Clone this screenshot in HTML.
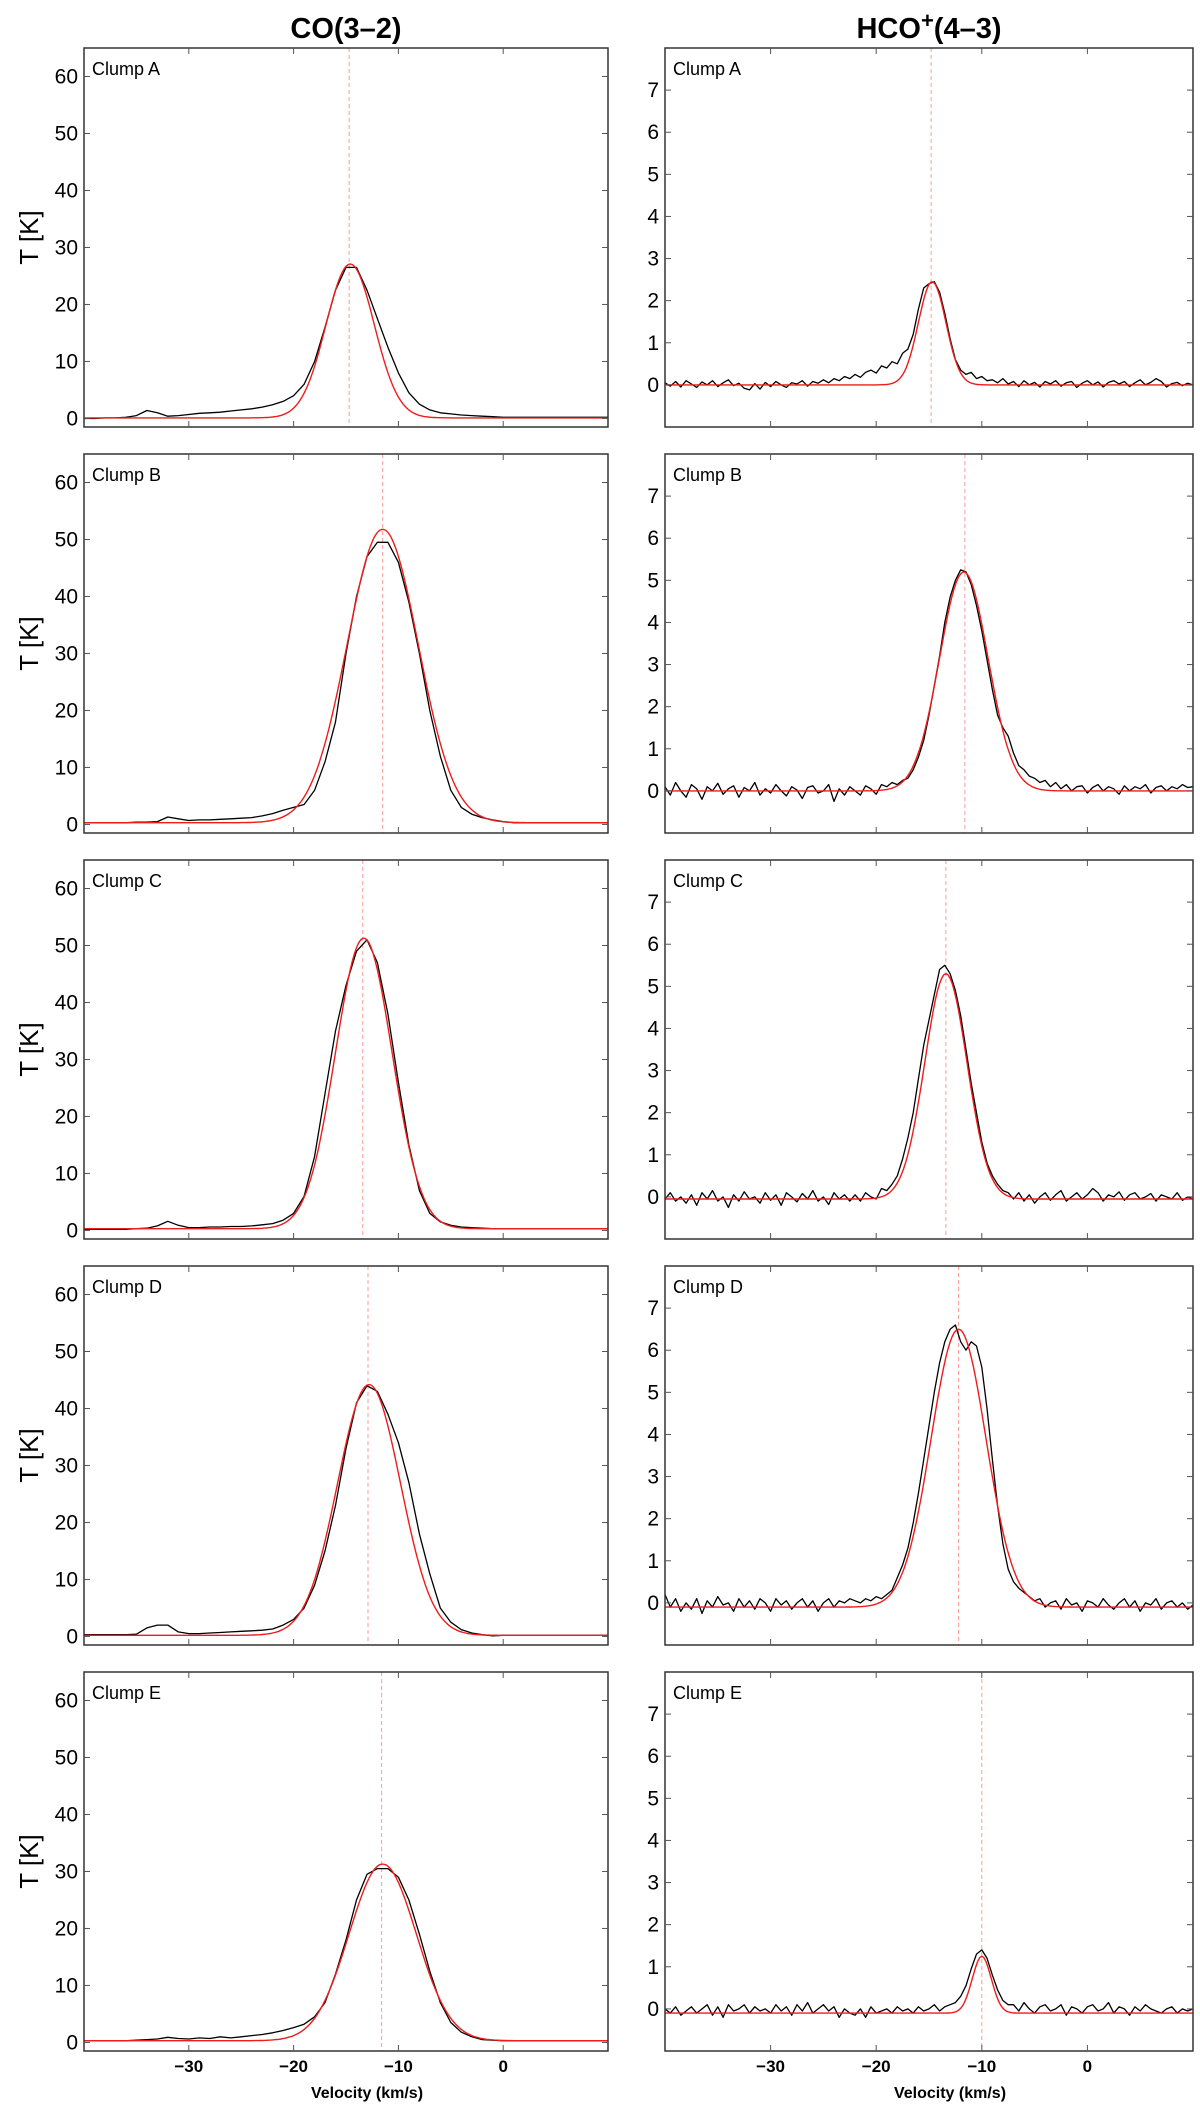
<!DOCTYPE html>
<html><head><meta charset="utf-8"><style>
html,body{margin:0;padding:0;background:#fff;}
svg{display:block;}
</style></head><body>
<svg id="chart" width="1200" height="2109" viewBox="0 0 1200 2109" xmlns="http://www.w3.org/2000/svg" font-family="Liberation Sans, sans-serif">
<text x="346" y="38" text-anchor="middle" font-family="Liberation Sans Narrow, Liberation Sans, sans-serif" font-weight="bold" font-size="29">CO(3–2)</text>
<text x="929" y="38" text-anchor="middle" font-family="Liberation Sans Narrow, Liberation Sans, sans-serif" font-weight="bold" font-size="29">HCO<tspan font-size="22" dy="-10">+</tspan><tspan dy="10">(4–3)</tspan></text>
<g id="plots"></g>
</svg>
<script>
const clumps = ["A","B","C","D","E"];
const xTicks = [-30,-20,-10,0];
const coTicks = [0,10,20,30,40,50,60];
const hcoTicks = [0,1,2,3,4,5,6,7];
const coVel = [-40,-39,-38,-37,-36,-35,-34,-33,-32,-31,-30,-29,-28,-27,-26,-25,-24,-23,-22,-21,-20,-19,-18,-17,-16,-15,-14,-13,-12,-11,-10,-9,-8,-7,-6,-5,-4,-3,-2,-1,0,1,2,3,4,5,6,7,8,9,10];
const coA = [0,0,0.1,0.1,0.2,0.5,1.4,1.0,0.4,0.5,0.7,0.9,1.0,1.1,1.3,1.5,1.7,2.0,2.4,3.0,4.0,6.0,10,16,22.5,26.5,26.5,22.5,17.5,12.5,8,4.5,2.5,1.5,1.0,0.8,0.6,0.5,0.4,0.3,0.2,0.2,0.2,0.2,0.2,0.2,0.2,0.2,0.2,0.2,0.2];
const coB = [0.3,0.3,0.3,0.3,0.3,0.4,0.4,0.5,1.3,1.0,0.7,0.8,0.8,0.9,1.0,1.1,1.2,1.5,1.9,2.5,3.0,3.5,6,11,18,30,40,47,49.5,49.5,46,39,30,20,12,6,3,1.8,1.2,0.8,0.5,0.3,0.3,0.3,0.3,0.3,0.3,0.3,0.3,0.3,0.3];
const coC = [0.2,0.2,0.2,0.2,0.2,0.3,0.4,0.8,1.6,0.9,0.5,0.5,0.6,0.6,0.7,0.7,0.8,1.0,1.2,1.8,3,6,13,24,35,43,49,51,47,38,26,15,7,3,1.5,0.9,0.6,0.5,0.4,0.3,0.3,0.3,0.3,0.3,0.3,0.3,0.3,0.3,0.3,0.3,0.3];
const coD = [0.3,0.3,0.3,0.3,0.3,0.4,1.5,2.0,2.0,0.8,0.5,0.5,0.6,0.7,0.8,0.9,1.0,1.1,1.3,2,3,5,9,15,23,33,41,44,43,39,34,27,18,11,5,2.5,1.2,0.6,0.3,0.1,0.2,0.2,0.2,0.2,0.2,0.2,0.2,0.2,0.2,0.2,0.2];
const coE = [0.3,0.3,0.3,0.3,0.3,0.4,0.5,0.6,0.9,0.7,0.6,0.8,0.7,1.0,0.8,1.0,1.2,1.4,1.7,2.1,2.6,3.2,4.5,7,12,18,25,29.5,30.5,30.5,29,25,19,12.5,7,3.5,1.8,1,0.5,0.4,0.3,0.3,0.3,0.3,0.3,0.3,0.3,0.3,0.3,0.3,0.3];
const coData = [coA,coB,coC,coD,coE];
// Gaussian fit parameters (amplitude, centre, sigma, baseline)
const coAmp = [27,51.5,51,44,31];
const coCen = [-14.6,-11.5,-13.3,-12.8,-11.5];
const coSig = [2.3,3.4,2.7,3.0,3.2];
const coBase = [0.1,0.3,0.3,0.2,0.3];
const coLine = [-14.7,-11.5,-13.4,-12.9,-11.6];

const hcoStart = -40, hcoStep = 0.5;
const hcoA = [0.05,-0.03,0.08,-0.05,0.1,0.02,-0.06,0.07,0.0,0.1,-0.04,0.05,0.12,-0.02,0.04,-0.08,-0.12,0.03,-0.1,0.06,-0.04,0.08,0.0,-0.06,0.05,0.02,0.1,-0.03,0.08,0.04,0.12,0.05,0.15,0.1,0.2,0.15,
0.25,0.18,0.3,0.35,0.28,0.45,0.4,0.55,0.5,0.75,
0.85,1.2,1.8,2.3,2.4,2.45,2.2,1.7,1.1,0.6,
0.35,0.25,0.3,0.15,0.2,0.1,0.12,0.05,0.15,0.02,
0.08,-0.04,0.1,0.0,0.06,-0.05,0.08,0.02,0.1,-0.03,0.05,0.08,-0.06,0.04,0.1,0.0,0.07,-0.05,0.06,0.1,0.02,0.08,-0.04,0.05,0.12,0.0,0.06,0.15,0.08,-0.05,0.03,0.06,-0.02,0.04,0.0];
const hcoB = [0.1,-0.1,0.2,0.0,-0.15,0.15,0.05,-0.2,0.1,0.0,0.18,-0.08,0.05,0.12,-0.15,0.08,0.0,0.2,-0.1,0.05,-0.05,0.15,0.0,-0.12,0.1,0.02,-0.18,0.08,0.12,-0.05,0.0,0.15,-0.25,0.05,-0.1,0.1,
0.0,-0.1,0.12,0.05,-0.08,0.15,0.1,0.2,0.15,0.25,
0.3,0.5,0.8,1.2,1.8,2.5,3.2,4.0,4.6,5.0,
5.25,5.2,4.9,4.4,3.8,3.1,2.4,1.8,1.5,1.3,
0.9,0.6,0.5,0.35,0.3,0.2,0.25,0.1,0.2,0.05,0.15,0.0,0.1,0.12,-0.05,0.08,0.15,0.0,0.1,0.05,-0.08,0.12,0.0,0.1,0.05,0.15,-0.05,0.08,0.12,0.0,0.1,0.05,0.15,0.08,0.1];
const hcoC = [-0.05,0.1,-0.1,0.0,-0.15,0.05,-0.2,0.1,-0.05,0.15,-0.1,0.0,-0.25,0.05,-0.1,0.12,-0.05,0.0,-0.15,0.1,-0.08,0.05,-0.2,0.1,0.0,-0.12,0.08,-0.05,0.15,-0.1,0.0,-0.18,0.1,-0.05,0.05,-0.1,
0.05,-0.1,0.1,0.0,-0.05,0.2,0.15,0.3,0.5,0.9,
1.4,2.0,2.8,3.6,4.2,4.8,5.4,5.5,5.3,4.9,
4.3,3.5,2.7,2.0,1.3,0.8,0.5,0.3,0.15,0.1,
-0.05,0.1,-0.1,0.05,-0.15,0.0,0.1,-0.08,0.05,0.15,-0.1,0.0,0.1,-0.05,0.05,0.2,0.1,-0.1,0.05,0.0,0.12,-0.08,0.05,0.1,-0.05,0.0,0.08,-0.1,0.05,0.0,-0.05,0.1,-0.08,0.0,-0.05];
const hcoD = [0.2,-0.1,0.1,-0.2,0.0,-0.15,0.1,-0.25,0.05,-0.1,0.15,-0.05,0.0,-0.2,0.1,-0.1,0.05,-0.15,0.1,0.0,-0.2,0.1,-0.05,0.05,-0.15,0.0,0.1,-0.1,0.05,-0.2,0.0,0.1,-0.1,0.05,0.0,0.1,
0.05,0.0,0.1,0.05,0.15,0.1,0.2,0.3,0.6,0.9,
1.3,1.9,2.6,3.4,4.2,5.0,5.7,6.2,6.5,6.6,
6.2,6.0,6.2,6.1,5.6,4.6,3.4,2.3,1.4,0.8,
0.5,0.35,0.25,0.15,0.05,0.1,-0.1,0.0,0.05,-0.15,0.1,-0.05,0.0,-0.2,0.05,0.0,-0.1,0.1,-0.05,-0.15,0.0,0.1,-0.1,0.05,-0.2,0.0,-0.05,0.1,-0.15,0.0,0.05,-0.1,0.0,-0.15,-0.05];
const hcoE = [0.0,-0.1,0.05,-0.15,-0.05,0.05,-0.1,0.0,0.1,-0.15,0.05,-0.2,0.1,-0.05,0.0,0.1,-0.1,0.05,-0.05,0.0,-0.1,0.1,-0.05,0.05,-0.15,0.1,-0.05,0.15,-0.1,0.0,0.1,-0.05,0.05,-0.2,0.0,-0.1,
-0.15,0.0,-0.2,0.05,-0.1,-0.05,0.0,-0.1,0.05,-0.05,
0.0,-0.1,0.05,-0.05,0.0,0.1,-0.05,0.05,0.1,0.15,
0.3,0.55,0.95,1.3,1.4,1.2,0.8,0.45,0.2,0.1,
0.1,-0.05,0.15,0.0,-0.1,0.05,0.1,-0.05,0.0,0.1,-0.15,0.05,0.0,-0.1,0.05,0.1,-0.05,0.0,0.15,-0.1,0.05,0.0,-0.15,0.05,-0.05,0.1,0.0,-0.05,-0.1,0.0,0.05,-0.1,0.0,-0.05,0.0];
const hcoData = [hcoA,hcoB,hcoC,hcoD,hcoE];
const hcoAmp = [2.45,5.2,5.35,6.6,1.35];
const hcoCen = [-14.7,-11.7,-13.4,-12.2,-10.0];
const hcoSig = [1.3,2.3,2.0,2.6,0.9];
const hcoBase = [0.0,0.0,-0.05,-0.1,-0.1];
const hcoLine = [-14.8,-11.6,-13.4,-12.2,-10.0];

const NS = "http://www.w3.org/2000/svg";
const root = document.getElementById('plots');
const PTOP = 48, PH = 379, PITCH = 406;
const cols = [
  {x0:84, x1:608, ymin:-1.5, ymax:65, ticks:coTicks},
  {x0:665, x1:1193, ymin:-1, ymax:8, ticks:hcoTicks}
];
function mk(tag, attrs, parent){
  const e = document.createElementNS(NS, tag);
  for (const k in attrs) e.setAttribute(k, attrs[k]);
  parent.appendChild(e);
  return e;
}
function xScale(c, v){ return c.x0 + (v + 40) / 50 * (c.x1 - c.x0); }
function yScale(c, top, t){ return top + PH - (t - c.ymin) / (c.ymax - c.ymin) * PH; }
function gauss(a, m, s, b, v){ return b + a * Math.exp(-0.5 * ((v - m) / s) ** 2); }

clumps.forEach((cl, i) => {
  const top = PTOP + i * PITCH;
  [0,1].forEach(ci => {
    const c = cols[ci];
    const g = mk('g', {}, root);
    
    
    const clipId = 'clip' + i + ci;
    const cp = mk('clipPath', {id: clipId}, g);
    mk('rect', {x:c.x0, y:top, width:c.x1-c.x0, height:PH}, cp);
    const lv = ci===0 ? coLine[i] : hcoLine[i];
    const dl = mk('line', {x1:xScale(c,lv), x2:xScale(c,lv), y1:top, y2:top+PH, stroke:'#ff9a9a', 'stroke-width':1, 'stroke-dasharray':'4,3'}, g);
    
    
    let pts = [];
    if (ci === 0) {
      const d = coData[i];
      for (let k = 0; k < coVel.length; k++) pts.push(xScale(c, coVel[k]).toFixed(1) + ',' + yScale(c, top, d[k]).toFixed(1));
    } else {
      const d = hcoData[i];
      for (let k = 0; k < d.length; k++) pts.push(xScale(c, hcoStart + k*hcoStep).toFixed(1) + ',' + yScale(c, top, d[k]).toFixed(1));
    }
    const obs = mk('polyline', {points: pts.join(' '), fill:'none', stroke:'#000', 'stroke-width':1.3, 'stroke-linejoin':'round', 'clip-path':'url(#'+clipId+')'}, g);
    
    
    const A = ci===0?coAmp[i]:hcoAmp[i], M = ci===0?coCen[i]:hcoCen[i], S = ci===0?coSig[i]:hcoSig[i], B = ci===0?coBase[i]:hcoBase[i];
    let fp = [];
    for (let v = -40; v <= 10.001; v += 0.2) fp.push(xScale(c, v).toFixed(1) + ',' + yScale(c, top, gauss(A,M,S,B,v)).toFixed(1));
    const fit = mk('polyline', {points: fp.join(' '), fill:'none', stroke:'#ee1c1c', 'stroke-width':1.4, 'clip-path':'url(#'+clipId+')'}, g);
    
    
    const fr = mk('rect', {x:c.x0, y:top, width:c.x1-c.x0, height:PH, fill:'none', stroke:'#333', 'stroke-width':1.5}, g);
    
    
    c.ticks.forEach(t => {
      const y = yScale(c, top, t);
      mk('line', {x1:c.x0, x2:c.x0+6, y1:y, y2:y, stroke:'#555', 'stroke-width':1}, g);
      mk('line', {x1:c.x1-6, x2:c.x1, y1:y, y2:y, stroke:'#555', 'stroke-width':1}, g);
      const tl = mk('text', {x:c.x0-6, y:y+7, 'text-anchor':'end', 'font-size':21}, g);
      tl.textContent = t;
      
      
    });
    xTicks.forEach(t => {
      const x = xScale(c, t);
      mk('line', {x1:x, x2:x, y1:top, y2:top+6, stroke:'#555', 'stroke-width':1}, g);
      mk('line', {x1:x, x2:x, y1:top+PH-6, y2:top+PH, stroke:'#555', 'stroke-width':1}, g);
      if (i === 4) {
        const xl = mk('text', {x:x, y:top+PH+21, 'text-anchor':'middle', 'font-size':17, 'font-weight':'bold'}, g);
        xl.textContent = t < 0 ? '−' + Math.abs(t) : String(t);
        
        
      }
    });
    const lab = mk('text', {x:c.x0 + 8, y:top+27, 'font-size':18}, g);
    lab.textContent = 'Clump ' + cl;
    
    
    if (ci === 0) {
      const yt = mk('text', {x:0, y:0, 'text-anchor':'middle', 'font-size':26, transform:'translate(38,' + (top+PH/2) + ') rotate(-90)'}, g);
      yt.textContent = 'T [K]';
      
      
    }
    if (i === 4) {
      const vt = mk('text', {x:(c.x0+c.x1)/2 + 21, y:2098, 'text-anchor':'middle', 'font-size':16, 'font-weight':'bold'}, g);
      vt.textContent = 'Velocity (km/s)';
      
      
    }
  });
});
</script>
</body></html>
